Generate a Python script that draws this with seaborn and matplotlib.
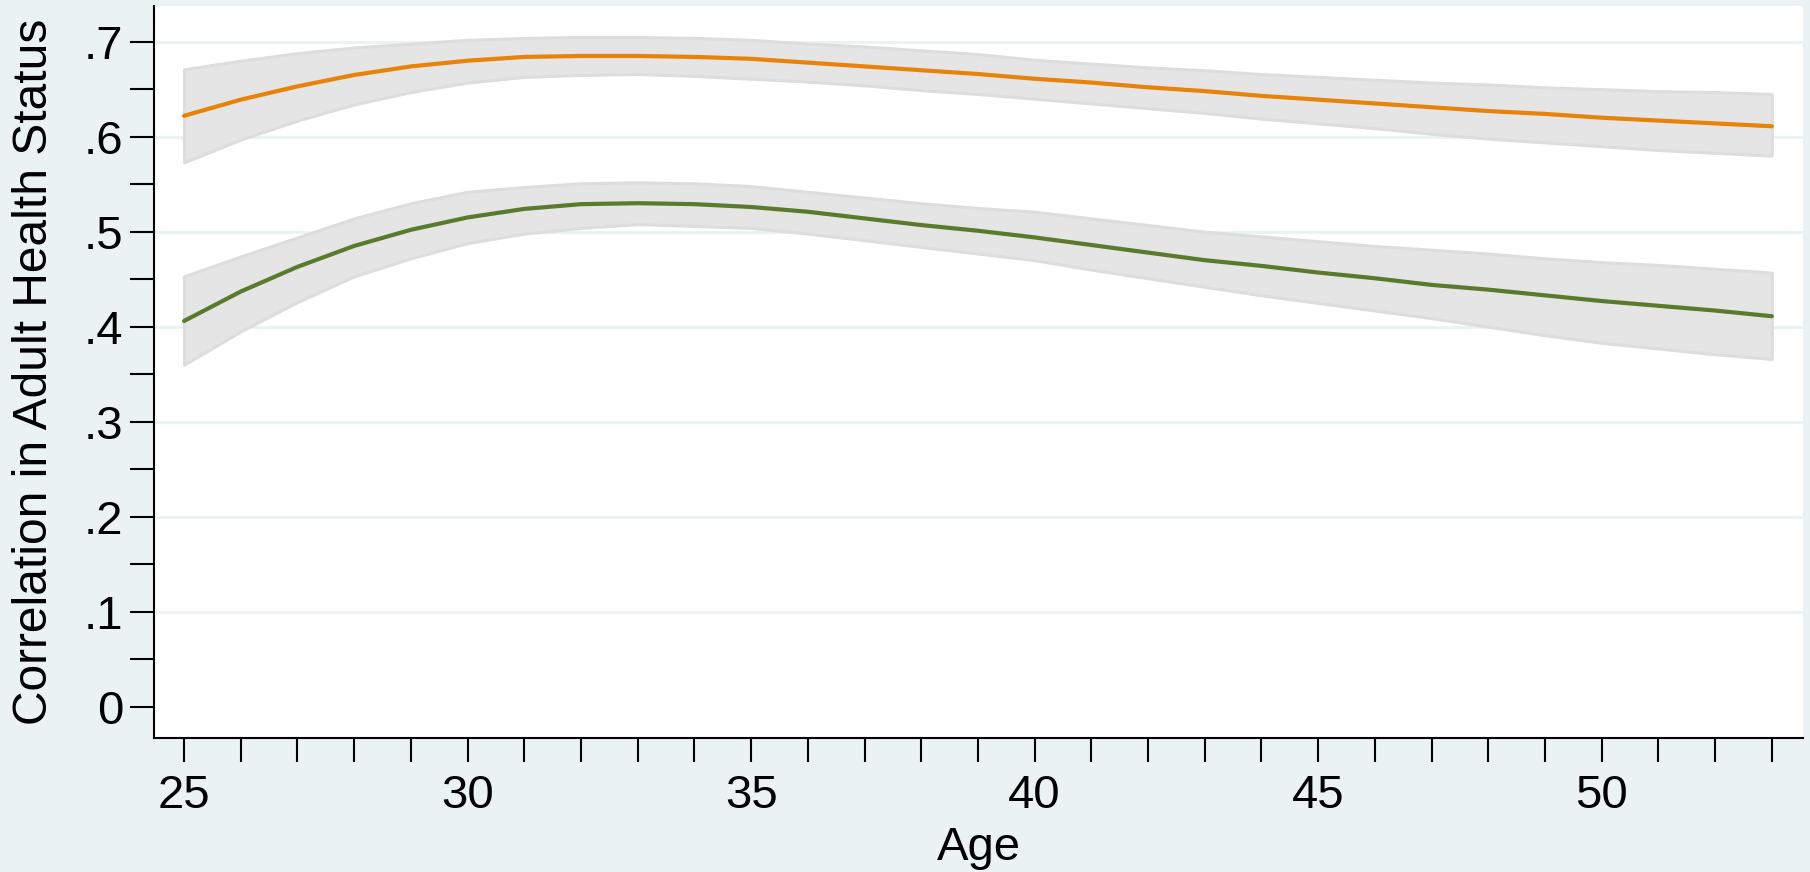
import matplotlib
matplotlib.use("Agg")
import matplotlib.pyplot as plt
import seaborn as sns
import pandas as pd
import numpy as np
from matplotlib.ticker import FixedLocator

# ---- data ----
ages = list(range(25, 54))

orange_mean = [.622, .639, .653, .665, .674, .680, .684, .685, .685, .684,
               .682, .678, .674, .670, .666, .661, .657, .652, .648, .643,
               .639, .635, .631, .627, .624, .620, .617, .614, .611]
orange_upper = [.671, .680, .688, .694, .698, .702, .704, .705, .705, .704,
                .702, .698, .695, .691, .687, .681, .677, .673, .670, .666,
                .663, .660, .657, .655, .652, .650, .648, .647, .645]
orange_lower = [.573, .597, .617, .634, .647, .657, .663, .665, .666, .664,
                .661, .658, .654, .649, .645, .640, .635, .630, .625, .619,
                .614, .609, .603, .598, .594, .590, .586, .583, .580]

green_mean = [.406, .437, .463, .485, .502, .515, .524, .529, .530, .529,
              .526, .521, .514, .507, .501, .494, .486, .478, .470, .464,
              .457, .451, .444, .439, .433, .427, .422, .417, .411]
green_upper = [.453, .474, .494, .514, .530, .542, .547, .551, .552, .551,
               .548, .542, .536, .530, .525, .521, .514, .507, .500, .495,
               .490, .485, .481, .477, .472, .468, .465, .461, .457]
green_lower = [.360, .395, .426, .453, .472, .488, .498, .504, .508, .506,
               .504, .498, .491, .484, .477, .470, .460, .451, .442, .433,
               .425, .417, .409, .400, .391, .383, .377, .371, .366]

series_names = ["orange", "green"]
series_colors = {"orange": "#E8830A", "green": "#5A7A2D"}

y_ticks = [0, .1, .2, .3, .4, .5, .6, .7]
y_tick_labels = ["0", ".1", ".2", ".3", ".4", ".5", ".6", ".7"]
x_ticks = [25, 30, 35, 40, 45, 50]
x_tick_labels = ["25", "30", "35", "40", "45", "50"]

# ---- style ----
BG = "#EAF2F3"
sns.set_theme(style="white")
plt.rcParams["font.family"] = ["Liberation Sans", "DejaVu Sans"]

df = pd.DataFrame({
    "Age": ages * 2,
    "corr": orange_mean + green_mean,
    "series": ["orange"] * len(ages) + ["green"] * len(ages),
})

fig = plt.figure(figsize=(18.10, 8.72), dpi=100, facecolor=BG)
ax = fig.add_axes([154 / 1810, 1 - 738 / 872, (1803 - 154) / 1810, (738 - 6) / 872])
ax.set_facecolor("white")

# confidence bands
for lo, hi in [(orange_lower, orange_upper), (green_lower, green_upper)]:
    ax.fill_between(ages, lo, hi, facecolor="#E5E5E5", edgecolor="#DDDDDD",
                    linewidth=2.2, joinstyle="round", zorder=2)

sns.lineplot(data=df, x="Age", y="corr", hue="series", palette=series_colors,
             hue_order=series_names, linewidth=3.0, legend=False, ax=ax,
             zorder=3, solid_capstyle="round")

ax.set_xlim(24.47, 53.55)
ax.set_ylim(-0.033, 0.7376)

ax.set_yticks(y_ticks)
ax.set_yticklabels(y_tick_labels)
ax.yaxis.set_minor_locator(FixedLocator([.05, .15, .25, .35, .45, .55, .65]))
ax.set_xticks(x_ticks)
ax.set_xticklabels(x_tick_labels)
ax.xaxis.set_minor_locator(FixedLocator([a for a in ages if a not in x_ticks]))

ax.tick_params(axis="both", which="both", direction="out", length=17, width=1.5,
               color="black", labelsize=34, labelcolor="black")
ax.tick_params(axis="x", which="both", bottom=True, pad=9)
ax.tick_params(axis="y", which="both", left=True, pad=5)

ax.grid(axis="y", which="major", color=BG, linewidth=2.0)
ax.grid(axis="x", visible=False)
ax.set_axisbelow(True)
ax.get_ygridlines()[0].set_visible(False)

for side in ["top", "right"]:
    ax.spines[side].set_visible(False)
for side in ["left", "bottom"]:
    ax.spines[side].set_color("black")
    ax.spines[side].set_linewidth(1.5)

ax.set_xlabel("Age", fontsize=34, color="black")
ax.set_ylabel("Correlation in Adult Health Status", fontsize=34.5, color="black")
ax.xaxis.label.set_va("center")
ax.yaxis.label.set_va("center")
ax.xaxis.set_label_coords(0.5, (738 - 848) / 732)
ax.yaxis.set_label_coords((35 - 154) / 1649, 0.5)

fig.savefig("out.png", dpi=100, facecolor=BG)
